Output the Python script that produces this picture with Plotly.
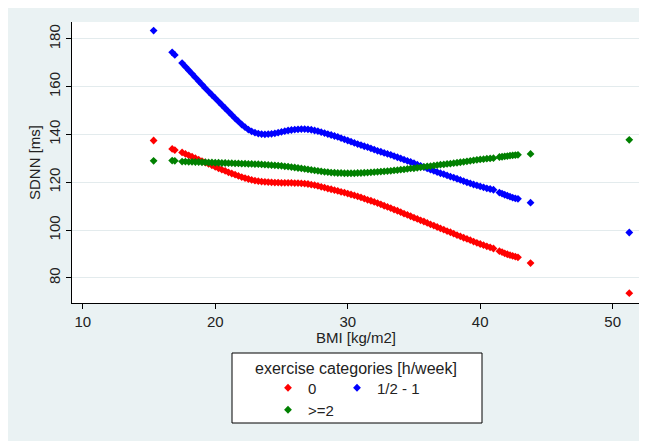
import plotly.graph_objects as go

# ---------------- data ----------------
bmi = [15.35, 16.75, 16.95,
       17.50, 17.75, 18.00, 18.25, 18.50, 18.75, 19.00, 19.25, 19.50, 19.75,
       20.00, 20.25, 20.50, 20.75, 21.00, 21.25, 21.50, 21.75, 22.00, 22.25,
       22.50, 22.75, 23.00, 23.25, 23.50, 23.75, 24.00, 24.25, 24.50, 24.75,
       25.00, 25.25, 25.50, 25.75, 26.00, 26.25, 26.50, 26.75, 27.00, 27.25,
       27.50, 27.75, 28.00, 28.25, 28.50, 28.75, 29.00, 29.25, 29.50, 29.75,
       30.00, 30.25, 30.50, 30.75, 31.00, 31.25, 31.50, 31.75, 32.00, 32.25,
       32.50, 32.75, 33.00, 33.25, 33.50, 33.75, 34.00, 34.25, 34.50, 34.75,
       35.00, 35.25, 35.50, 35.75, 36.00, 36.25, 36.50, 36.75, 37.00, 37.25,
       37.50, 37.75, 38.00, 38.25, 38.50, 38.75, 39.00, 39.25, 39.50, 39.75,
       40.00, 40.25, 40.50, 40.75, 41.00,
       41.45, 41.65, 41.85, 42.05, 42.25, 42.45, 42.65, 42.85,
       43.80, 51.25]

sdnn_0 = [137.5, 134.0, 133.5,
          132.5, 131.9, 131.3, 130.7, 130.1, 129.5, 128.9, 128.3, 127.7, 127.1,
          126.5, 125.9, 125.3, 124.8, 124.2, 123.7, 123.2, 122.7, 122.2, 121.8,
          121.4, 121.0, 120.7, 120.5, 120.3, 120.2, 120.1, 120.0, 119.9, 119.9,
          119.8, 119.8, 119.8, 119.8, 119.7, 119.7, 119.6, 119.5, 119.3, 119.0,
          118.8, 118.5, 118.1, 117.8, 117.4, 117.1, 116.7, 116.4, 116.0, 115.7,
          115.3, 114.9, 114.5, 114.1, 113.7, 113.2, 112.7, 112.3, 111.8, 111.3,
          110.8, 110.2, 109.7, 109.2, 108.6, 108.1, 107.5, 106.9, 106.4, 105.8,
          105.2, 104.7, 104.1, 103.6, 103.0, 102.4, 101.9, 101.3, 100.7, 100.2,
          99.6, 99.1, 98.5, 97.9, 97.4, 96.8, 96.3, 95.8, 95.2, 94.7,
          94.2, 93.7, 93.2, 92.8, 92.3,
          91.2, 90.8, 90.3, 89.9, 89.5, 89.2, 88.9, 88.6,
          86.2, 73.6]

sdnn_half_1 = [183.5, 174.4, 173.3,
               169.9, 168.4, 166.9, 165.4, 163.9, 162.4, 160.9, 159.4, 158.0, 156.6,
               155.2, 153.8, 152.4, 151.0, 149.6, 148.2, 146.8, 145.5, 144.2, 143.1,
               142.1, 141.3, 140.8, 140.4, 140.2, 140.1, 140.2, 140.3, 140.5, 140.8,
               141.1, 141.4, 141.7, 141.9, 142.1, 142.2, 142.3, 142.3, 142.2, 142.0,
               141.7, 141.4, 141.0, 140.6, 140.2, 139.8, 139.4, 139.0, 138.5, 138.0,
               137.5, 137.0, 136.5, 136.0, 135.6, 135.1, 134.7, 134.2, 133.7, 133.2,
               132.8, 132.3, 131.9, 131.5, 131.0, 130.5, 130.0, 129.5, 129.0, 128.5,
               128.0, 127.4, 126.9, 126.4, 125.8, 125.3, 124.8, 124.3, 123.8, 123.4,
               122.9, 122.4, 122.0, 121.5, 121.0, 120.5, 120.0, 119.6, 119.1, 118.7,
               118.3, 117.9, 117.5, 117.2, 116.9,
               115.7, 115.3, 114.8, 114.4, 114.0, 113.6, 113.3, 113.1,
               111.5, 99.0]

sdnn_ge2 = [129.0, 129.1, 129.0,
            128.7, 128.7, 128.6, 128.6, 128.5, 128.5, 128.4, 128.4, 128.3, 128.3,
            128.2, 128.2, 128.1, 128.1, 128.0, 128.0, 127.9, 127.9, 127.8, 127.8,
            127.7, 127.7, 127.6, 127.6, 127.5, 127.4, 127.3, 127.2, 127.1, 127.0,
            126.9, 126.7, 126.6, 126.4, 126.2, 126.0, 125.8, 125.6, 125.4, 125.2,
            125.0, 124.8, 124.6, 124.4, 124.3, 124.1, 124.0, 123.9, 123.9, 123.8,
            123.8, 123.8, 123.8, 123.9, 123.9, 124.0, 124.1, 124.2, 124.3, 124.4,
            124.5, 124.6, 124.7, 124.8, 125.0, 125.1, 125.3, 125.4, 125.6, 125.8,
            125.9, 126.1, 126.3, 126.5, 126.7, 126.8, 127.0, 127.2, 127.4, 127.5,
            127.7, 127.8, 128.0, 128.2, 128.4, 128.6, 128.8, 129.0, 129.2, 129.4,
            129.6, 129.7, 129.9, 130.0, 130.1,
            130.6, 130.7, 130.9, 131.0, 131.2, 131.3, 131.4, 131.5,
            131.9, 137.8]

series_names = ["0", "1/2 - 1", ">=2"]
series_values = [sdnn_0, sdnn_half_1, sdnn_ge2]
series_colors = ["#FF0000", "#0000FF", "#008000"]

x_ticks = [10, 20, 30, 40, 50]
y_ticks = [80, 100, 120, 140, 160, 180]
x_title = "BMI [kg/m2]"
y_title = "SDNN [ms]"
legend_title = "exercise categories [h/week]"

# ---------------- layout geometry (figure pixel coords) ----------------
W, H = 639, 433
L, R, T, B = 64, 7, 14, 138
PW, PH = W - L - R, H - T - B


def px_x(p):
    return (p - L) / PW


def px_y(p):
    return (H - B - p) / PH


FONT = "Liberation Sans, Arial, sans-serif"
TXT = "#222222"

fig = go.Figure()
legends = ["legend", "legend2", "legend3"]
for name, vals, col, lg in zip(series_names, series_values, series_colors, legends):
    fig.add_trace(go.Scatter(
        x=bmi, y=vals, mode="markers", name=name, legend=lg,
        marker=dict(symbol="diamond", size=6, color=col, line=dict(width=0)),
        hoverinfo="x+y",
    ))

legend_common = dict(
    orientation="v", bgcolor="rgba(0,0,0,0)", borderwidth=0,
    font=dict(family=FONT, size=15, color=TXT),
    xanchor="left", yanchor="middle", itemsizing="trace",
)

fig.update_layout(
    width=W, height=H, template="none",
    margin=dict(l=L, r=R, t=T, b=B, pad=0),
    paper_bgcolor="#EAF2F3", plot_bgcolor="#FFFFFF",
    font=dict(family=FONT, size=15, color=TXT),
    showlegend=True,
    legend=dict(**legend_common, x=px_x(260), y=px_y(380)),
    legend2=dict(**legend_common, x=px_x(329), y=px_y(380)),
    legend3=dict(**legend_common, x=px_x(260), y=px_y(402)),
    xaxis=dict(
        range=[9.19, 52.06], tickmode="array", tickvals=x_ticks,
        ticks="outside", ticklen=5, tickwidth=1, tickcolor="#000000",
        showline=True, linecolor="#000000", linewidth=1, mirror=False,
        showgrid=False, zeroline=False, automargin=False,
        tickfont=dict(family=FONT, size=15, color=TXT),
    ),
    yaxis=dict(
        range=[69.5, 187.1], tickmode="array", tickvals=y_ticks,
        ticks="outside", ticklen=5, tickwidth=1, tickcolor="#000000",
        showline=True, linecolor="#000000", linewidth=1, mirror=False,
        showgrid=True, gridcolor="#E3EBED", gridwidth=1,
        zeroline=False, automargin=False, tickangle=-90,
        tickfont=dict(family=FONT, size=15, color=TXT),
        title=dict(text=y_title, font=dict(family=FONT, size=15, color=TXT), standoff=1),
    ),
    shapes=[
        # legend box
        dict(type="rect", xref="paper", yref="paper", layer="below",
             x0=px_x(224), x1=px_x(474), y0=px_y(415), y1=px_y(345),
             fillcolor="#FFFFFF", line=dict(color="#000000", width=1)),
    ],
    annotations=[
        dict(text=x_title, xref="paper", yref="paper",
             x=0.5, y=px_y(329), xanchor="center", yanchor="middle",
             showarrow=False, font=dict(family=FONT, size=15, color=TXT)),
        dict(text=legend_title, xref="paper", yref="paper",
             x=px_x(348), y=px_y(360), xanchor="center", yanchor="middle",
             showarrow=False, font=dict(family=FONT, size=16, color=TXT)),
    ],
)

fig.write_html("out.html")
